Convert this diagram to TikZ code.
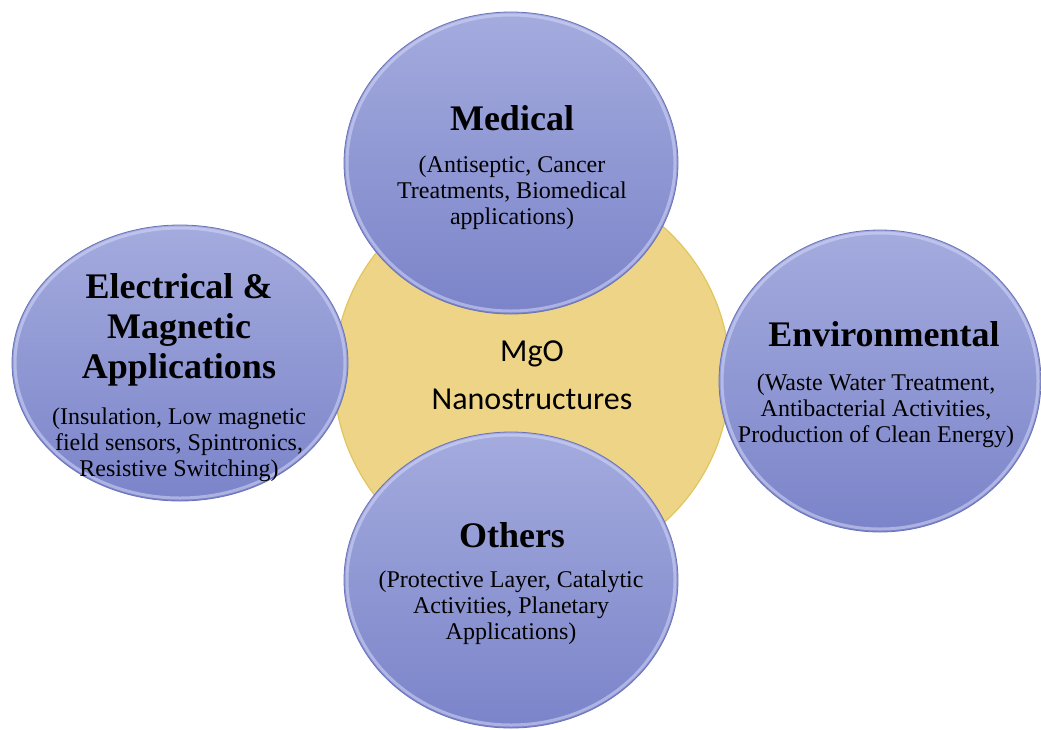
\documentclass[tikz,border=0pt]{standalone}
\usepackage{fontspec}
\setmainfont{Liberation Serif}
\newfontfamily\calibri{Carlito}
\usetikzlibrary{shapes.geometric}

\definecolor{bubbletop}{RGB}{164,171,222}
\definecolor{bubblebot}{RGB}{123,132,201}
\definecolor{bubbleedge}{RGB}{106,115,185}
\definecolor{bubblerim}{RGB}{212,217,248}
\definecolor{corefill}{RGB}{238,212,135}
\definecolor{coreedge}{RGB}{224,198,92}

\tikzset{
  bubble/.style={ellipse, inner sep=0pt, top color=bubbletop, bottom color=bubblebot,
    draw=bubbleedge, line width=0.8pt},
  rim/.style={draw=bubblerim, draw opacity=0.55, line width=3pt},
  corecircle/.style={circle, inner sep=0pt, minimum size=396pt, fill=corefill,
    draw=coreedge, line width=1.2pt, align=center,
    font=\calibri\fontsize{32}{48}\selectfont},
  headline/.style={align=center, font=\bfseries\fontsize{36}{40}\selectfont},
  subline/.style={align=center, font=\fontsize{24}{26}\selectfont}
}

\begin{document}
\begin{tikzpicture}[x=1pt, y=-1pt]
    \useasboundingbox[fill=white] (0,0) rectangle (1041,729);

    % the MgO core sits behind the four fields
    \node[corecircle] (mgo) at (532,375) {MgO\\Nanostructures};

    \foreach \nm/\cx/\cy/\rx/\ry in {med/511/163/167/151, elec/180/363/168/138,
                                    env/880/381/161/151, oth/511/580/167/148} {
        \node[bubble, minimum width=2*\rx, minimum height=2*\ry] (\nm) at (\cx,\cy) {};
        \draw[rim] (\cx,\cy) ellipse ({\rx-3} and {\ry-3});
    }

    % field titles
    \node[headline] (medT) at (512,118) {Medical};
    \node[headline] (elecT) at (179,330) {Electrical \&\\Magnetic\\Applications};
    \node[headline] (envT) at (884,334) {Environmental};
    \node[headline] (othT) at (512,535) {Others};

    % what each field covers
    \node[subline] (medS) at (512,193) {(Antiseptic, Cancer\\Treatments, Biomedical\\applications)};
    \node[subline] (elecS) at (179,445) {(Insulation, Low magnetic\\field sensors, Spintronics,\\Resistive Switching)};
    \node[subline] (envS) at (876,411) {(Waste Water Treatment,\\Antibacterial Activities,\\Production of Clean Energy)};
    \node[subline] (othS) at (511,608) {(Protective Layer, Catalytic\\Activities, Planetary\\Applications)};
\end{tikzpicture}
\end{document}
